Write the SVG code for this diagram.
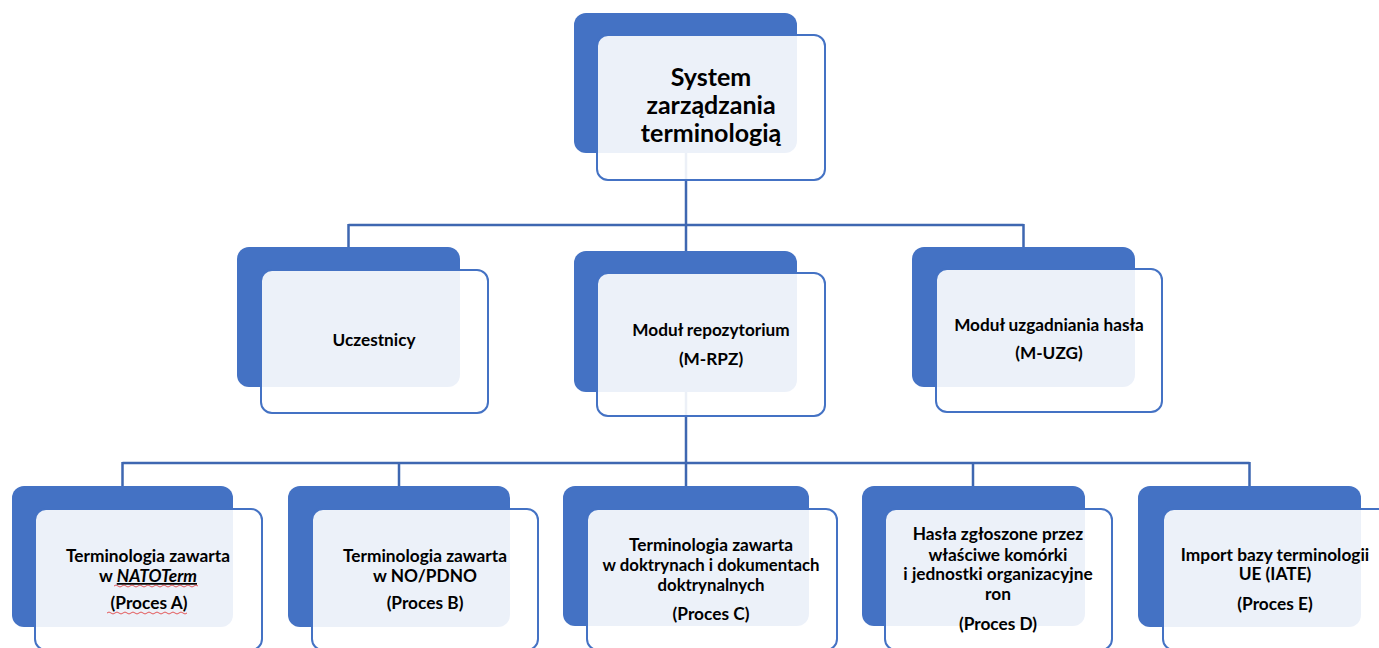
<svg xmlns="http://www.w3.org/2000/svg" width="1379" height="648" viewBox="0 0 1379 648">
<style>
.bk{fill:#4472C4;}
.fr{fill:#FFFFFF;fill-opacity:0.9;stroke:#4472C4;stroke-width:2;}
.ln{fill:none;stroke:#3E67B1;stroke-width:2.5;}
text{font-family:Lato,"Liberation Sans",sans-serif;font-weight:bold;fill:#000;text-anchor:middle;}
.t1{font-size:25px;}
.t2{font-size:17.2px;}
.t3{font-size:17.3px;}
.t4{font-size:16.8px;}
.sq{fill:none;stroke:#E03030;stroke-width:0.8;}
</style>
<rect width="1379" height="648" fill="#FFFFFF"/>
<g id="connectors">
<path class="ln" d="M686,150 V225 M348.5,225 H1023.5 M348.5,224 V247 M686,224 V251 M1023.5,224 V247"/>
<path class="ln" d="M686,390 V463 M122.5,463 H1249.5 M122.5,462 V486 M399,462 V486 M686,462 V486 M973,462 V486 M1249.5,462 V486"/>
</g>
<g id="n-system">
<rect class="bk" x="574" y="13" width="223" height="140" rx="12"/>
<rect class="fr" x="597" y="35" width="228" height="145" rx="11"/>
<text class="t1" x="711" y="86">System</text>
<text class="t1" x="711" y="114">zarządzania</text>
<text class="t1" x="711" y="142">terminologią</text>
</g>
<g id="n-uczestnicy">
<rect class="bk" x="237" y="247" width="223" height="140" rx="12"/>
<rect class="fr" x="261" y="270" width="227" height="143" rx="11"/>
<text class="t2" x="374" y="346">Uczestnicy</text>
</g>
<g id="n-mrpz">
<rect class="bk" x="574" y="251" width="223" height="141" rx="12"/>
<rect class="fr" x="597" y="273" width="228" height="143" rx="11"/>
<text class="t2" x="711" y="336">Moduł repozytorium</text>
<text class="t2" x="711" y="365">(M-RPZ)</text>
</g>
<g id="n-muzg">
<rect class="bk" x="912" y="247" width="223" height="140" rx="12"/>
<rect class="fr" x="936" y="269" width="226" height="143" rx="11"/>
<text class="t2" x="1049" y="331">Moduł uzgadniania hasła</text>
<text class="t2" x="1049" y="359">(M-UZG)</text>
</g>
<g id="n-procA">
<rect class="bk" x="12" y="486" width="221" height="141" rx="12"/>
<rect class="fr" x="35" y="509" width="227" height="141" rx="11"/>
<text class="t3" x="148" y="562">Terminologia zawarta</text>
<text class="t3" x="148" y="582">w <tspan font-style="italic" text-decoration="underline">NATOTerm</tspan></text>
<text class="t3" x="149" y="609">(Proces A)</text>
<path class="sq" d="M114,586 q2,-2 4,0 t4,0 t4,0 t4,0 t4,0 t4,0 t4,0 t4,0 t4,0 t4,0 t4,0 t4,0 t4,0 t4,0 t4,0 t4,0 t4,0 t4,0 t4,0 t4,0 t4,0"/>
<path class="sq" d="M107,613 q2,-2 4,0 t4,0 t4,0 t4,0 t4,0 t4,0 t4,0 t4,0 t4,0 t4,0 t4,0 t4,0 t4,0 t4,0 t4,0 t4,0 t4,0 t4,0 t4,0 t4,0"/>
</g>
<g id="n-procB">
<rect class="bk" x="288" y="486" width="222" height="141" rx="12"/>
<rect class="fr" x="312" y="509" width="226" height="141" rx="11"/>
<text class="t3" x="425" y="562">Terminologia zawarta</text>
<text class="t3" x="425" y="582">w NO/PDNO</text>
<text class="t3" x="425" y="609">(Proces B)</text>
</g>
<g id="n-procC">
<rect class="bk" x="563" y="486" width="246" height="140" rx="12"/>
<rect class="fr" x="587" y="509" width="250" height="141" rx="11"/>
<text class="t3" x="711" y="551">Terminologia zawarta</text>
<text class="t4" x="711" y="571">w doktrynach i dokumentach</text>
<text class="t4" x="711" y="591">doktrynalnych</text>
<text class="t3" x="711" y="620">(Proces C)</text>
</g>
<g id="n-procD">
<rect class="bk" x="862" y="486" width="223" height="140" rx="12"/>
<rect class="fr" x="885" y="509" width="227" height="141" rx="11"/>
<text class="t3" x="998" y="540">Hasła zgłoszone przez</text>
<text class="t3" x="998" y="561">właściwe komórki</text>
<text class="t3" x="998" y="580">i jednostki organizacyjne</text>
<text class="t3" x="998" y="600">ron</text>
<text class="t3" x="998" y="630">(Proces D)</text>
</g>
<g id="n-procE">
<rect class="bk" x="1138" y="486" width="223" height="141" rx="12"/>
<rect class="fr" x="1163" y="509" width="227" height="141" rx="11"/>
<text class="t3" x="1275" y="561">Import bazy terminologii</text>
<text class="t3" x="1275" y="580">UE (IATE)</text>
<text class="t3" x="1275" y="610">(Proces E)</text>
</g>
</svg>
